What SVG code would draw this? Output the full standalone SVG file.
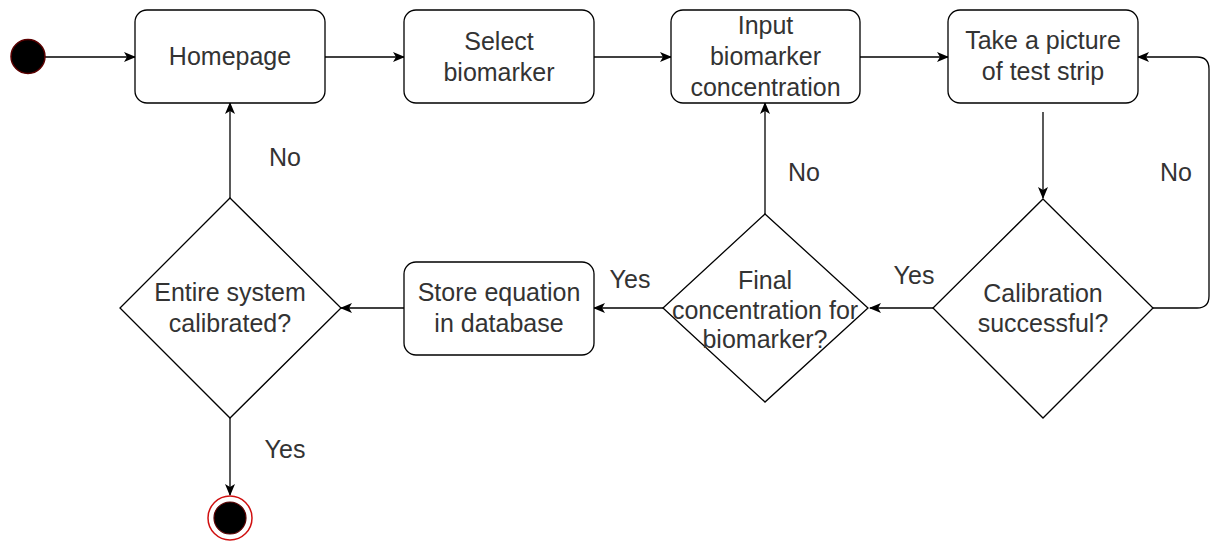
<svg xmlns="http://www.w3.org/2000/svg" width="1210" height="544" viewBox="0 0 1210 544">
<style>
.box{fill:#fff;stroke:#000;stroke-width:1.3}
.dia{fill:#fff;stroke:#000;stroke-width:1.3}
.t{font-family:"Liberation Sans",Arial,sans-serif;font-size:25px;fill:#333;text-anchor:middle}
.edge{fill:none;stroke:#000;stroke-width:1.3;marker-end:url(#arr)}
</style>
<defs>
<marker id="arr" viewBox="0 0 12 10" refX="11" refY="5" markerWidth="12" markerHeight="10" markerUnits="userSpaceOnUse" orient="auto">
<path d="M0,0 L12,5 L0,10 L3,5 Z" fill="#000"/>
</marker>
</defs>
<rect width="1210" height="544" fill="#fff"/>
<g id="connectors">
<line class="edge" x1="45" y1="57" x2="135" y2="57"/>
<line class="edge" x1="325" y1="57" x2="404" y2="57"/>
<line class="edge" x1="594" y1="57" x2="671" y2="57"/>
<line class="edge" x1="860" y1="57" x2="948" y2="57"/>
<line class="edge" x1="1043" y1="112" x2="1043" y2="198"/>
<path class="edge" d="M1153,308 H1197 Q1209,308 1209,296 V69 Q1209,57 1197,57 H1138"/>
<line class="edge" x1="933" y1="308" x2="870" y2="308"/>
<line class="edge" x1="765" y1="214" x2="765" y2="103"/>
<line class="edge" x1="663" y1="308" x2="594" y2="308"/>
<line class="edge" x1="404" y1="308" x2="341" y2="308"/>
<line class="edge" x1="230" y1="198" x2="230" y2="103"/>
<line class="edge" x1="230" y1="418" x2="230" y2="495"/>
<text class="t" x="285" y="166">No</text>
<text class="t" x="804" y="181">No</text>
<text class="t" x="1176" y="181">No</text>
<text class="t" x="914" y="284">Yes</text>
<text class="t" x="630" y="288">Yes</text>
<text class="t" x="285" y="458">Yes</text>
</g>
<g id="start">
<circle cx="28" cy="56.5" r="17" fill="#000" stroke="#5a0000" stroke-width="1.5"/>
</g>
<g id="homepage">
<rect class="box" x="135" y="10" width="190" height="93" rx="12"/>
<text class="t" x="230" y="65">Homepage</text>
</g>
<g id="select">
<rect class="box" x="404" y="10" width="190" height="93" rx="12"/>
<text class="t" x="499" y="50">Select</text>
<text class="t" x="499" y="81">biomarker</text>
</g>
<g id="input">
<rect class="box" x="671" y="10" width="189" height="93" rx="12"/>
<text class="t" x="765.5" y="34">Input</text>
<text class="t" x="765.5" y="65">biomarker</text>
<text class="t" x="765.5" y="96">concentration</text>
</g>
<g id="picture">
<rect class="box" x="948" y="10" width="190" height="93" rx="12"/>
<text class="t" x="1043" y="49">Take a picture</text>
<text class="t" x="1043" y="80">of test strip</text>
</g>
<g id="calibration">
<polygon class="dia" points="1043,199 1153,308 1043,418 933,308"/>
<text class="t" x="1043" y="302">Calibration</text>
<text class="t" x="1043" y="332">successful?</text>
</g>
<g id="final">
<polygon class="dia" points="765,214 868,308 765,402 663,308"/>
<text class="t" x="765" y="289">Final</text>
<text class="t" x="765" y="319">concentration for</text>
<text class="t" x="765" y="348">biomarker?</text>
</g>
<g id="store">
<rect class="box" x="404" y="262" width="190" height="93" rx="12"/>
<text class="t" x="499" y="301">Store equation</text>
<text class="t" x="499" y="332">in database</text>
</g>
<g id="entire">
<polygon class="dia" points="230,198 341,308 230,418 120,308"/>
<text class="t" x="230" y="301">Entire system</text>
<text class="t" x="230" y="332">calibrated?</text>
</g>
<g id="end">
<circle cx="230" cy="518" r="22" fill="#fff" stroke="#d01010" stroke-width="1.5"/>
<circle cx="230" cy="518" r="16" fill="#000" stroke="#5a0000" stroke-width="1.2"/>
</g>
</svg>
